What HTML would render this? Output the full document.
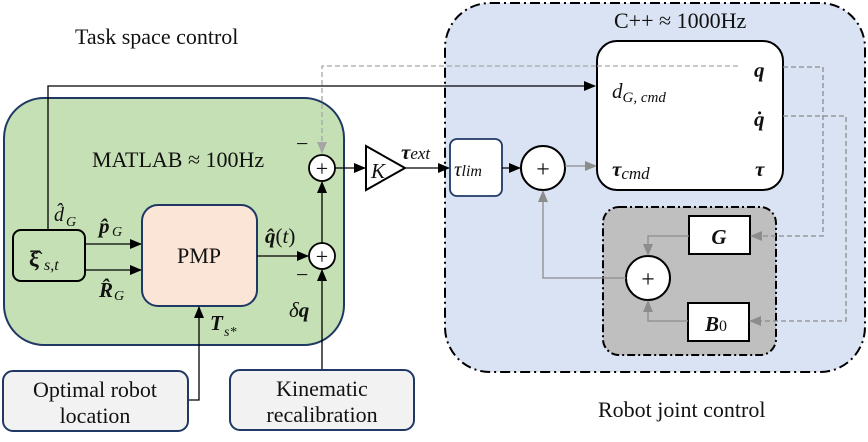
<!DOCTYPE html>
<html><head><meta charset="utf-8"><style>
html,body{margin:0;padding:0;background:#fff}
svg{display:block}
text{font-family:"Liberation Serif",serif;fill:#111}
.b{font-weight:bold}
.i{font-style:italic}
</style></head><body>
<svg width="868" height="442" viewBox="0 0 868 442" xmlns="http://www.w3.org/2000/svg">
<defs>
<marker id="ab" markerWidth="12" markerHeight="10" refX="11" refY="5" orient="auto" markerUnits="userSpaceOnUse"><path d="M0,0 L12,5 L0,10 z" fill="#000"/></marker>
<marker id="ag" markerWidth="12" markerHeight="10" refX="11" refY="5" orient="auto" markerUnits="userSpaceOnUse"><path d="M0,0 L12,5 L0,10 z" fill="#8c8c8c"/></marker>
<marker id="al" markerWidth="12" markerHeight="10" refX="11" refY="5" orient="auto" markerUnits="userSpaceOnUse"><path d="M0,0 L12,5 L0,10 z" fill="#a6a6a6"/></marker>
</defs>

<rect x="445" y="3" width="420" height="369" rx="45" fill="#dae3f3" stroke="#000" stroke-width="2" stroke-dasharray="10,4,2,4"/>
<rect x="4" y="98" width="340" height="247" rx="40" fill="#c5e0b4" stroke="#1f3864" stroke-width="2"/>

<text x="75" y="44" font-size="22">Task space control</text>
<text x="598" y="417" font-size="22">Robot joint control</text>
<text x="92" y="167" font-size="22">MATLAB ≈ 100Hz</text>
<text x="614" y="28" font-size="22">C++ ≈ 1000Hz</text>

<polyline points="740,66 322,66 322,153" fill="none" stroke="#a6a6a6" stroke-width="1.3" stroke-dasharray="5,3" marker-end="url(#al)"/>
<polyline points="48,230 48,86 595,86" fill="none" stroke="#000" stroke-width="1.3" marker-end="url(#ab)"/>

<rect x="13" y="230" width="72" height="51" rx="8" fill="#c5e0b4" stroke="#000" stroke-width="2"/>
<text x="29" y="266" font-size="22" class="b">ξ̂</text><text x="44" y="270" font-size="16" class="i">s,t</text>
<text x="54" y="221" font-size="20" class="i">d̂</text><text x="66" y="226" font-size="14" class="i">G</text>
<line x1="85" y1="244" x2="141" y2="244" stroke="#000" stroke-width="1.3" marker-end="url(#ab)"/>
<line x1="85" y1="270" x2="141" y2="270" stroke="#000" stroke-width="1.3" marker-end="url(#ab)"/>
<text x="99" y="233" font-size="21" class="b i">p̂</text><text x="112" y="236" font-size="14" class="i">G</text>
<text x="99" y="297" font-size="21" class="b i">R̂</text><text x="114" y="300" font-size="14" class="i">G</text>

<rect x="142" y="205" width="115" height="101" rx="16" fill="#fbe5d6" stroke="#1f3864" stroke-width="2"/>
<text x="199" y="263" font-size="22" text-anchor="middle">PMP</text>
<line x1="257" y1="256" x2="308" y2="256" stroke="#000" stroke-width="1.3" marker-end="url(#ab)"/>
<text x="265" y="243" font-size="21"><tspan class="b i">q̂</tspan>(<tspan class="i">t</tspan>)</text>

<circle cx="322" cy="168" r="13" fill="#fff" stroke="#000" stroke-width="1.8"/>
<text x="322" y="176" font-size="22" text-anchor="middle">+</text>
<circle cx="322" cy="256" r="13" fill="#fff" stroke="#000" stroke-width="1.8"/>
<text x="322" y="264" font-size="22" text-anchor="middle">+</text>
<line x1="322" y1="243" x2="322" y2="182" stroke="#000" stroke-width="1.3" marker-end="url(#ab)"/>
<line x1="322" y1="370" x2="322" y2="270" stroke="#000" stroke-width="1.3" marker-end="url(#ab)"/>
<text x="296" y="151" font-size="22">−</text>
<text x="296" y="282" font-size="22">−</text>
<text x="289" y="317" font-size="21"><tspan class="i">δ</tspan><tspan class="b i">q</tspan></text>

<polyline points="188,400 199,400 199,307" fill="none" stroke="#000" stroke-width="1.3" marker-end="url(#ab)"/>
<text x="210" y="330" font-size="21" class="b i">T</text><text x="224" y="336" font-size="14" class="i">s*</text>

<line x1="335" y1="168" x2="365" y2="168" stroke="#000" stroke-width="1.3" marker-end="url(#ab)"/>
<polygon points="366,146 405,168 366,190" fill="#fff" stroke="#000" stroke-width="2"/>
<text x="371" y="178" font-size="21" class="i">K</text>
<line x1="405" y1="168" x2="449" y2="168" stroke="#000" stroke-width="1.3" marker-end="url(#ab)"/>
<text x="401" y="159" font-size="21"><tspan class="b i">τ</tspan><tspan class="i" font-size="17">ext</tspan></text>

<rect x="450" y="139" width="52" height="57" rx="7" fill="#fff" stroke="#1f3864" stroke-width="1.8"/>
<text x="454" y="176" font-size="21" class="i">τ<tspan font-size="16">lim</tspan></text>
<line x1="502" y1="168" x2="520" y2="168" stroke="#000" stroke-width="1.3" marker-end="url(#ab)"/>
<circle cx="543" cy="168" r="22" fill="#fff" stroke="#000" stroke-width="2"/>
<text x="543" y="177" font-size="24" text-anchor="middle">+</text>
<line x1="565" y1="166" x2="596" y2="166" stroke="#8c8c8c" stroke-width="1.3" marker-end="url(#ag)"/>

<rect x="597" y="41" width="186" height="149" rx="20" fill="#fff" stroke="#000" stroke-width="2"/>
<line x1="597" y1="66" x2="740" y2="66" stroke="#a6a6a6" stroke-width="1.3" stroke-dasharray="5,3"/>
<text x="612" y="98" font-size="21" class="i">d<tspan font-size="15" dy="4">G, cmd</tspan></text>
<text x="612" y="176" font-size="21"><tspan class="b i">τ</tspan><tspan class="i" font-size="17" dy="3">cmd</tspan></text>
<text x="754" y="77" font-size="21" class="b i">q</text>
<text x="754" y="126" font-size="21" class="b i">q̇</text>
<text x="755" y="176" font-size="21" class="b i">τ</text>

<rect x="603" y="207" width="173" height="148" rx="16" fill="#bfbfbf" stroke="#000" stroke-width="2" stroke-dasharray="8,3,2,3"/>
<rect x="689" y="216" width="61" height="38" fill="#fff" stroke="#000" stroke-width="2"/>
<text x="719" y="244" font-size="21" class="b i" text-anchor="middle">G</text>
<rect x="688" y="303" width="61" height="38" fill="#fff" stroke="#000" stroke-width="2"/>
<text x="716" y="331" font-size="21" class="b i" text-anchor="middle">B<tspan font-size="16" font-style="normal" font-weight="normal">0</tspan></text>
<circle cx="648" cy="278" r="22" fill="#fff" stroke="#000" stroke-width="2"/>
<text x="648" y="287" font-size="24" text-anchor="middle">+</text>
<polyline points="689,236 648,236 648,255" fill="none" stroke="#8c8c8c" stroke-width="1.3" marker-end="url(#ag)"/>
<polyline points="688,321 648,321 648,301" fill="none" stroke="#8c8c8c" stroke-width="1.3" marker-end="url(#ag)"/>
<polyline points="626,278 543,278 543,191" fill="none" stroke="#8c8c8c" stroke-width="1.3" marker-end="url(#ag)"/>

<polyline points="783,67 823,67 823,236 751,236" fill="none" stroke="#8c8c8c" stroke-width="1.3" stroke-dasharray="5,3" marker-end="url(#ag)"/>
<polyline points="783,116 846,116 846,321 750,321" fill="none" stroke="#8c8c8c" stroke-width="1.3" stroke-dasharray="5,3" marker-end="url(#ag)"/>

<rect x="3" y="371" width="185" height="60" rx="10" fill="#f2f2f2" stroke="#1f3864" stroke-width="2"/>
<text x="95" y="397" font-size="22" text-anchor="middle" font-family="Liberation Serif, serif">Optimal robot</text>
<text x="95" y="423" font-size="22" text-anchor="middle" font-family="Liberation Serif, serif">location</text>
<rect x="230" y="370" width="184" height="60" rx="10" fill="#f2f2f2" stroke="#1f3864" stroke-width="2"/>
<text x="322" y="396" font-size="22" text-anchor="middle" font-family="Liberation Serif, serif">Kinematic</text>
<text x="322" y="422" font-size="22" text-anchor="middle" font-family="Liberation Serif, serif">recalibration</text>
</svg>
</body></html>
